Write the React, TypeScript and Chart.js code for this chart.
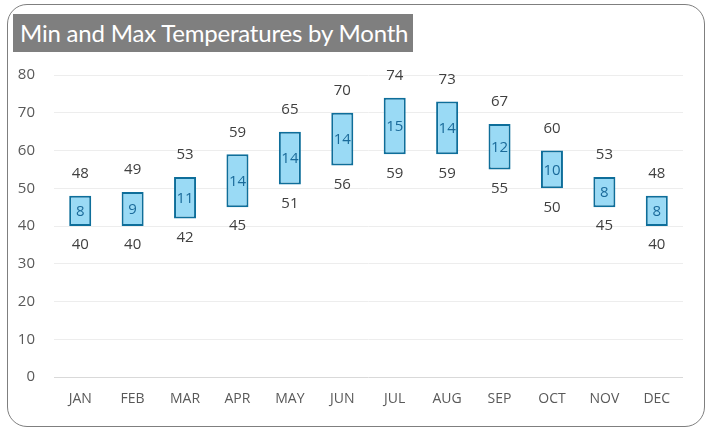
import React, { useEffect, useRef } from "react";
import { Chart, registerables } from "chart.js";

Chart.register(...registerables);

const months = ["JAN", "FEB", "MAR", "APR", "MAY", "JUN", "JUL", "AUG", "SEP", "OCT", "NOV", "DEC"];
const minTemps = [40, 40, 42, 45, 51, 56, 59, 59, 55, 50, 45, 40];
const maxTemps = [48, 49, 53, 59, 65, 70, 74, 73, 67, 60, 53, 48];
const titleText = "Min and Max Temperatures by Month";

const FONT = "'Open Sans', 'Noto Sans', sans-serif";
const TITLE_FONT = "Lato, 'Open Sans', sans-serif";

const labelPlugin = {
  id: "rangeLabels",
  afterDatasetsDraw(chart: any) {
    const ctx = chart.ctx;
    const meta = chart.getDatasetMeta(0);
    ctx.save();
    ctx.textAlign = "center";
    ctx.textBaseline = "middle";
    meta.data.forEach((bar: any, i: number) => {
      const top = Math.min(bar.y, bar.base);
      const bottom = Math.max(bar.y, bar.base);
      ctx.font = `15px ${FONT}`;
      ctx.fillStyle = "#404040";
      ctx.fillText(String(maxTemps[i]), bar.x, top - 22);
      ctx.fillText(String(minTemps[i]), bar.x, bottom + 19);
      ctx.fillStyle = "#1A6A9A";
      ctx.font = `15px ${FONT}`;
      ctx.fillText(String(maxTemps[i] - minTemps[i]), bar.x, (top + bottom) / 2 + 1);
    });
    ctx.restore();
  },
};

export default function App() {
  const canvasRef = useRef<HTMLCanvasElement>(null);

  useEffect(() => {
    if (!canvasRef.current) return;
    const chart = new Chart(canvasRef.current, {
      type: "bar",
      data: {
        labels: months,
        datasets: [
          {
            data: months.map((_, i) => [minTemps[i], maxTemps[i]]) as any,
            backgroundColor: "#9ADAF5",
            borderColor: "#0E6E9A",
            borderWidth: 2,
            borderSkipped: false,
            barPercentage: 0.42,
            categoryPercentage: 1,
          },
        ],
      },
      options: {
        animation: false,
        responsive: false,
        maintainAspectRatio: false,
        layout: { padding: { left: 10, right: 27, top: 75, bottom: 12 } },
        plugins: {
          legend: { display: false },
          tooltip: { enabled: false },
          title: { display: false },
        },
        scales: {
          x: {
            grid: { display: false },
            border: { display: false },
            ticks: { color: "#595959", font: { family: FONT, size: 14 }, padding: 6 },
            afterFit: (s: any) => {
              s.height = 40;
            },
          },
          y: {
            min: 0,
            max: 80,
            ticks: { stepSize: 10, color: "#595959", font: { family: FONT, size: 15 }, padding: 19 },
            grid: {
              drawTicks: false,
              color: (c: any) => (c.tick && c.tick.value === 0 ? "#D9D9D9" : "#EDEDED"),
            },
            border: { display: false },
            afterFit: (s: any) => {
              s.width = 44;
            },
          },
        },
      },
      plugins: [labelPlugin],
    });
    return () => chart.destroy();
  }, []);

  return (
    <div style={{ position: "absolute", left: 0, top: 0, width: 710, height: 429, background: "#fff" }}>
      <div
        style={{
          position: "absolute",
          left: 7,
          top: 4,
          width: 698,
          height: 423,
          boxSizing: "border-box",
          border: "1px solid #7F7F7F",
          borderRadius: 20,
        }}
      />
      <canvas ref={canvasRef} width={710} height={429} style={{ position: "absolute", left: 0, top: 0, width: 710, height: 429 }} />
      <div
        style={{
          position: "absolute",
          left: 13,
          top: 14,
          width: 400,
          height: 38,
          background: "#7F7F7F",
          color: "#fff",
          fontFamily: TITLE_FONT,
          fontSize: 24,
          letterSpacing: "-0.2px",
          lineHeight: "38px",
          paddingLeft: 7,
          boxSizing: "border-box",
          whiteSpace: "nowrap",
          overflow: "hidden",
        }}
      >
        {titleText}
      </div>
    </div>
  );
}
